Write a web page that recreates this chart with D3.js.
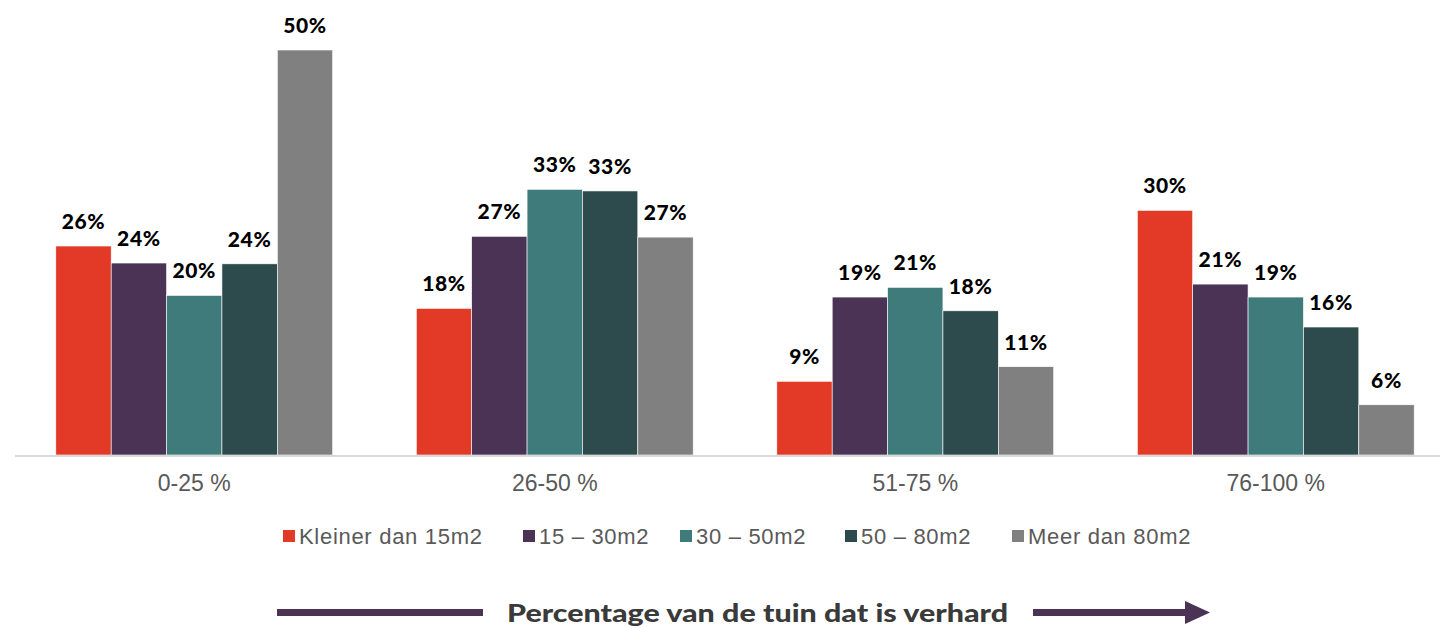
<!DOCTYPE html>
<html>
<head>
<meta charset="utf-8">
<script src="https://cdn.jsdelivr.net/npm/d3@7"></script>
<style>
  body { margin: 0; background: #fff; }
  svg { display: block; }
</style>
</head>
<body>
<div id="chart"></div>
<script>
// Chart data
const categories = ["0-25 %", "26-50 %", "51-75 %", "76-100 %"];
const seriesNames = ["Kleiner dan 15m2", "15 \u2013 30m2", "30 \u2013 50m2", "50 \u2013 80m2", "Meer dan 80m2"];
const seriesColors = ["#E23A27", "#4B3355", "#3F7B7B", "#2D4A4C", "#808080"];
const values = [
    [25.8, 18.1, 9.1, 30.2],   // Kleiner dan 15m2
    [23.7, 27.0, 19.5, 21.1],  // 15 - 30m2
    [19.7, 32.8, 20.7, 19.5],  // 30 - 50m2
    [23.6, 32.6, 17.8, 15.8],  // 50 - 80m2
    [50.0, 26.9, 10.9, 6.2]    // Meer dan 80m2
];
const labels = [
    ["26%", "18%", "9%", "30%"],
    ["24%", "27%", "19%", "21%"],
    ["20%", "33%", "21%", "19%"],
    ["24%", "33%", "18%", "16%"],
    ["50%", "27%", "11%", "6%"]
];
const axisTitle = "Percentage van de tuin dat is verhard";

const width = 1440;
const height = 628;
const baseline = 455;

const svg = d3.select("#chart")
    .append("svg")
    .attr("width", width)
    .attr("height", height);

// Scales
const x0 = d3.scaleBand()
    .domain(categories)
    .range([14, 1456])
    .paddingInner(0.232)
    .paddingOuter(0.116);

const x1 = d3.scaleBand()
    .domain(d3.range(seriesNames.length))
    .range([0, x0.bandwidth()]);

const y = d3.scaleLinear()
    .domain([0, 50])
    .range([baseline, 50]);

// Build flat data table for the bars
const table = [];
values.forEach((row, s) => {
    row.forEach((v, c) => {
        table.push({cat: categories[c], s: s, v: v, label: labels[s][c]});
    });
});

// Bars
svg.append("g")
    .selectAll("rect")
    .data(table)
    .enter().append("rect")
    .attr("x", d => x0(d.cat) + x1(d.s))
    .attr("y", d => y(d.v))
    .attr("width", x1.bandwidth())
    .attr("height", d => baseline - y(d.v))
    .attr("fill", d => seriesColors[d.s])
    .attr("stroke", "#ffffff")
    .attr("stroke-width", 0.6);

// Value labels
svg.append("g")
    .selectAll("text")
    .data(table)
    .enter().append("text")
    .attr("x", d => x0(d.cat) + x1(d.s) + x1.bandwidth() / 2)
    .attr("y", d => y(d.v) - 17)
    .attr("text-anchor", "middle")
    .attr("font-family", "Lato, 'Noto Sans', sans-serif")
    .attr("font-weight", 900)
    .attr("font-size", 21)
    .attr("letter-spacing", 0.6)
    .attr("fill", "#000")
    .text(d => d.label);

// Baseline
svg.append("line")
    .attr("x1", 15)
    .attr("x2", 1440)
    .attr("y1", baseline + 1)
    .attr("y2", baseline + 1)
    .attr("stroke", "#d9d9d9")
    .attr("stroke-width", 2);

// Category axis labels
const xAxis = svg.append("g")
    .attr("transform", `translate(0,${baseline})`)
    .call(d3.axisBottom(x0).tickSize(0).tickPadding(20));
xAxis.select(".domain").remove();
xAxis.selectAll("text")
    .attr("font-family", "'Liberation Sans', Arial, sans-serif")
    .attr("font-size", 23)
    .attr("fill", "#595959");

// Legend
const legendX = [283, 523, 680, 845, 1012];
const legend = svg.append("g")
    .selectAll("g")
    .data(seriesNames)
    .enter().append("g")
    .attr("transform", (d, i) => `translate(${legendX[i]},536)`);
legend.append("rect")
    .attr("x", 0)
    .attr("y", -6)
    .attr("width", 12)
    .attr("height", 12)
    .attr("fill", (d, i) => seriesColors[i]);
legend.append("text")
    .attr("x", 16)
    .attr("y", 7.5)
    .attr("font-family", "'Liberation Sans', Arial, sans-serif")
    .attr("font-size", 22)
    .attr("letter-spacing", 0.7)
    .attr("fill", "#595959")
    .text(d => d);

// Bottom axis title with arrows
const arrowColor = "#4B3355";
svg.append("rect")
    .attr("x", 277)
    .attr("y", 609)
    .attr("width", 206)
    .attr("height", 7)
    .attr("fill", arrowColor);
svg.append("rect")
    .attr("x", 1033)
    .attr("y", 609)
    .attr("width", 156)
    .attr("height", 7)
    .attr("fill", arrowColor);
svg.append("path")
    .attr("d", "M1185,601 L1210,612.5 L1185,624 Z")
    .attr("fill", arrowColor);
svg.append("text")
    .attr("x", 507)
    .attr("y", 622)
    .attr("font-family", "Lato, 'Noto Sans', sans-serif")
    .attr("font-weight", 900)
    .attr("font-size", 25)
    .attr("textLength", 501)
    .attr("lengthAdjust", "spacingAndGlyphs")
    .attr("fill", "#3a3a3a")
    .text(axisTitle);
</script>
</body>
</html>
